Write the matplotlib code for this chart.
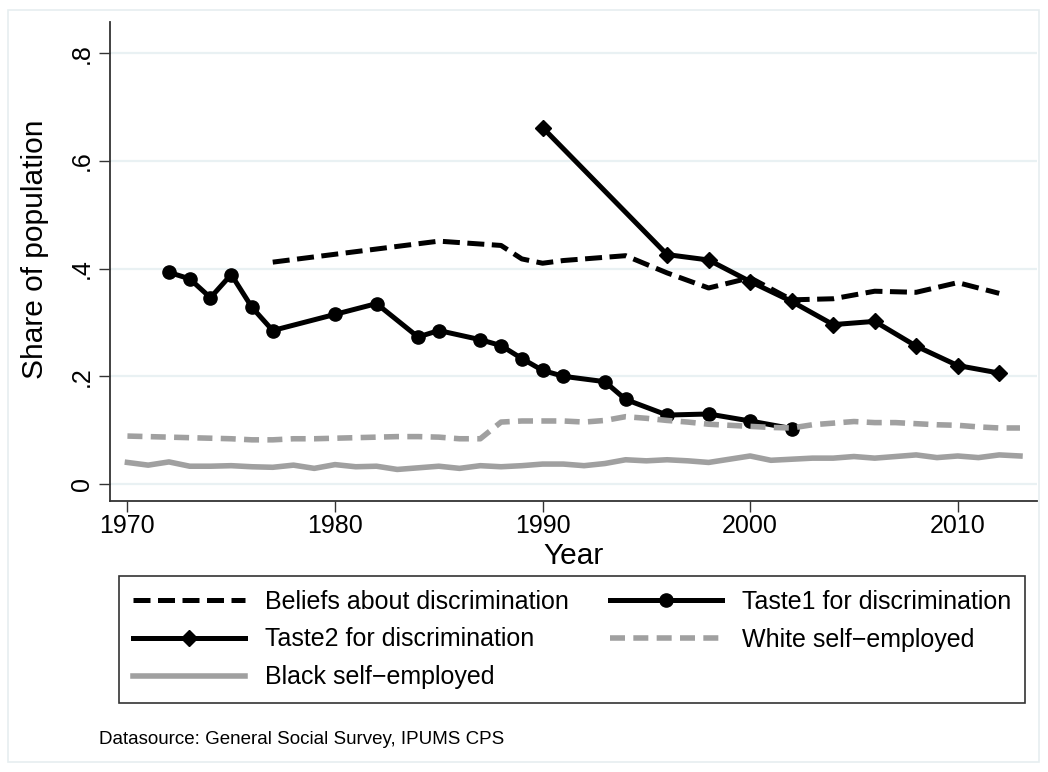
import numpy as np
import matplotlib
matplotlib.use("Agg")
import matplotlib.pyplot as plt
from matplotlib.ticker import FuncFormatter
from matplotlib.patches import Rectangle

plt.rcParams['font.family'] = ['Liberation Sans', 'DejaVu Sans']

# --- DATA ---
belief_years = [1977, 1985, 1988, 1989, 1990, 1991, 1993, 1994, 1996, 1998,
                2000, 2002, 2004, 2006, 2008, 2010, 2012]
belief_share = [0.412, 0.451, 0.443, 0.418, 0.410, 0.415, 0.421, 0.424, 0.392, 0.364,
                0.383, 0.342, 0.344, 0.358, 0.356, 0.374, 0.354]

taste1_years = [1972, 1973, 1974, 1975, 1976, 1977, 1980, 1982, 1984, 1985, 1987,
                1988, 1989, 1990, 1991, 1993, 1994, 1996, 1998, 2000, 2002]
taste1_share = [0.393, 0.381, 0.346, 0.389, 0.328, 0.285, 0.315, 0.335, 0.273, 0.285,
                0.268, 0.257, 0.233, 0.211, 0.200, 0.190, 0.157, 0.128, 0.130, 0.117,
                0.103]

taste2_years = [1990, 1996, 1998, 2000, 2002, 2004, 2006, 2008, 2010, 2012]
taste2_share = [0.662, 0.426, 0.416, 0.376, 0.339, 0.296, 0.302, 0.256, 0.220, 0.206]

cps_years = list(range(1970, 2014))
white_se = [0.089, 0.088, 0.087, 0.086, 0.085, 0.084, 0.082, 0.082, 0.084, 0.084,
            0.085, 0.086, 0.087, 0.088, 0.088, 0.087, 0.084, 0.084, 0.115, 0.117,
            0.117, 0.117, 0.115, 0.118, 0.125, 0.122, 0.118, 0.115, 0.111, 0.109,
            0.107, 0.105, 0.104, 0.110, 0.113, 0.116, 0.114, 0.114, 0.112, 0.110,
            0.109, 0.106, 0.104, 0.104]
black_se = [0.040, 0.035, 0.041, 0.033, 0.033, 0.034, 0.032, 0.031, 0.035, 0.029,
            0.036, 0.032, 0.033, 0.027, 0.030, 0.033, 0.029, 0.034, 0.032, 0.034,
            0.037, 0.037, 0.034, 0.038, 0.045, 0.043, 0.045, 0.043, 0.040, 0.046,
            0.052, 0.044, 0.046, 0.048, 0.048, 0.051, 0.048, 0.051, 0.054, 0.049,
            0.052, 0.049, 0.054, 0.052]

x_ticks = [1970, 1980, 1990, 2000, 2010]
y_ticks = [0, 0.2, 0.4, 0.6, 0.8]

# --- FIGURE ---
W, H = 1048, 772
fig = plt.figure(figsize=(W / 100, H / 100), dpi=100)

# light outer frame (Stata graph region)
fig.patches.append(Rectangle((8 / W, 10 / H), (W - 17) / W, (H - 20) / H,
                             transform=fig.transFigure, fill=False,
                             edgecolor='#e6eef0', linewidth=1.2))

left, right, top, bottom = 110, 1037, 22, 501
ax = fig.add_axes([left / W, 1 - bottom / H, (right - left) / W, (bottom - top) / H])

grey = '#a0a0a0'
lw = 3.6
ax.plot(belief_years, belief_share, color='black', lw=lw, dashes=(3.4, 1.5),
        label='Beliefs about discrimination')
ax.plot(taste1_years, taste1_share, color='black', lw=lw, marker='o', ms=9.5,
        label='Taste1 for discrimination')
ax.plot(taste2_years, taste2_share, color='black', lw=lw, marker='D', ms=8.5,
        label='Taste2 for discrimination')
ax.plot(cps_years, white_se, color=grey, lw=4.0, dashes=(2.7, 1.5),
        label='White self\u2212employed')
ax.plot(cps_years, black_se, color=grey, lw=4.0, label='Black self\u2212employed')

ax.set_xlim(1969.16, 2013.82)
ax.set_ylim(-0.0316, 0.858)
ax.set_xticks(x_ticks)
ax.set_yticks(y_ticks)
ax.yaxis.set_major_formatter(FuncFormatter(lambda v, p: '0' if v == 0 else f'{v:.1f}'.lstrip('0')))

ax.grid(axis='y', color='#e9f1f3', lw=1.6)
ax.set_axisbelow(True)
for s in ['top', 'right']:
    ax.spines[s].set_visible(False)
for s in ['left', 'bottom']:
    ax.spines[s].set_color('#333333')
    ax.spines[s].set_linewidth(1.3)

ax.tick_params(axis='both', direction='out', length=7.9, width=1.0, color='#333333',
               labelsize=18)
ax.tick_params(axis='x', pad=1.5)
ax.tick_params(axis='y', pad=3.5, labelrotation=90)
for t in ax.get_yticklabels():
    t.set_va('center')

ax.set_xlabel('Year', fontsize=21.5, labelpad=3)
ax.set_ylabel('Share of population', fontsize=21.5)
ax.yaxis.set_label_coords(-0.066, 0.526)

# legend: Stata fills rows, matplotlib fills columns
h, l = ax.get_legend_handles_labels()
order = [0, 2, 4, 1, 3]
leg = fig.legend([h[i] for i in order], [l[i] for i in order], ncol=2,
                 loc='upper left',
                 bbox_to_anchor=(119 / W, 1 - 704 / H, (1025 - 119) / W, (704 - 576) / H),
                 mode='expand', fontsize=18, frameon=True, fancybox=False,
                 handlelength=4.5, handletextpad=0.8, columnspacing=0.8,
                 labelspacing=0.55, borderpad=0.55, borderaxespad=0)
leg.get_frame().set_edgecolor('black')
leg.get_frame().set_linewidth(1.2)

fig.text(99 / W, 1 - 740 / H, 'Datasource: General Social Survey, IPUMS CPS',
         fontsize=13.5, va='center', ha='left')

fig.savefig('out.png', dpi=100)
